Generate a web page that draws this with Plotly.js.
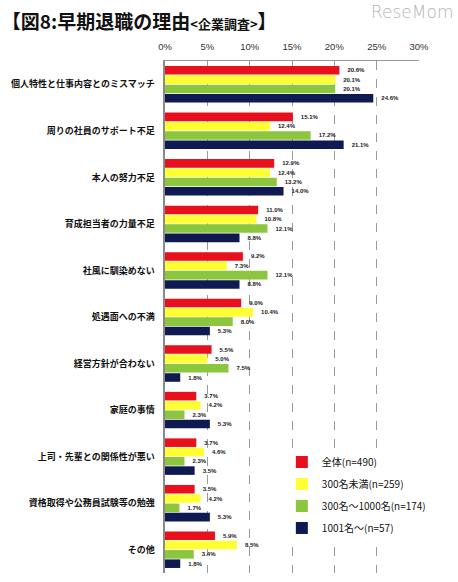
<!DOCTYPE html>
<html>
<head>
<meta charset="utf-8">
<script src="https://cdn.plot.ly/plotly-3.0.1.min.js"></script>
<style>html,body{margin:0;padding:0;background:#fff;}#chart{width:458px;height:582px;}</style>
</head>
<body>
<div id="chart"></div>
<script>
const categories = [
  "個人特性と仕事内容とのミスマッチ",
  "周りの社員のサポート不足",
  "本人の努力不足",
  "育成担当者の力量不足",
  "社風に馴染めない",
  "処遇面への不満",
  "経営方針が合わない",
  "家庭の事情",
  "上司・先輩との関係性が悪い",
  "資格取得や公務員試験等の勉強",
  "その他"
];
const seriesNames = ["全体(n=490)", "300名未満(n=259)", "300名～1000名(n=174)", "1001名～(n=57)"];
const valuesAll    = [20.6, 15.1, 12.9, 11.0, 9.2, 9.0, 5.5, 3.7, 3.7, 3.5, 5.9];
const valuesUnder300 = [20.1, 12.4, 12.4, 10.8, 7.3, 10.4, 5.0, 4.2, 4.6, 4.2, 8.5];
const values300to1000 = [20.1, 17.2, 13.2, 12.1, 12.1, 8.0, 7.5, 2.3, 2.3, 1.7, 3.4];
const values1001plus = [24.6, 21.1, 14.0, 8.8, 8.8, 5.3, 1.8, 5.3, 3.5, 5.3, 1.8];
const tickVals = [0, 5, 10, 15, 20, 25, 30];
const tickLabels = ["0%", "5%", "10%", "15%", "20%", "25%", "30%"];

const colors = ["#e8101c", "#ffff33", "#8cc63e", "#101a52"];
const seriesValues = [valuesAll, valuesUnder300, values300to1000, values1001plus];

const traces = seriesValues.map((vals, i) => ({
  type: "bar",
  orientation: "h",
  name: seriesNames[i],
  legendgroup: "g" + i,
  x: vals,
  y: categories,
  marker: { color: colors[i] },
  texttemplate: "   %{x:.1f}%",
  textposition: "outside",
  cliponaxis: false,
  textfont: { size: 6, color: "#222", family: "Liberation Sans, Arial, sans-serif", weight: "bold" },
  hoverinfo: "skip"
}));

const layout = {
  width: 458,
  height: 582,
  margin: { l: 165, r: 39, t: 61, b: 9 },
  paper_bgcolor: "#fff",
  plot_bgcolor: "#fff",
  barmode: "group",
  bargap: 0.2,
  bargroupgap: 0.08,
  font: { family: "Noto Sans CJK JP, sans-serif", color: "#222" },
  title: {
    text: "【図8:早期退職の理由<span style=\"font-size:13px\">&lt;企業調査&gt;</span>】",
    x: 0.004, xanchor: "left", xref: "container",
    y: 0.962, yanchor: "middle", yref: "container",
    font: { size: 19, weight: "bold", color: "#111", family: "Noto Sans CJK JP, sans-serif" }
  },
  xaxis: {
    side: "top",
    range: [0, 30],
    tickvals: tickVals,
    ticktext: tickLabels,
    ticks: "outside",
    ticklen: 6,
    tickcolor: "rgba(0,0,0,0)",
    tickfont: { size: 9.5, color: "#333", family: "Liberation Sans, Arial, sans-serif" },
    showgrid: true,
    gridcolor: "#9a9a9a",
    griddash: "dash",
    gridwidth: 1,
    showline: true,
    linecolor: "#999",
    linewidth: 1,
    zeroline: false,
    fixedrange: true
  },
  yaxis: {
    autorange: "reversed",
    showline: true,
    linecolor: "#8a8a8a",
    linewidth: 2.5,
    ticks: "",
    ticklabelstandoff: 6,
    tickfont: { size: 9, color: "#111", weight: "bold" },
    fixedrange: true
  },
  showlegend: true,
  legend: {
    x: 0.46, xanchor: "left",
    y: 0.245, yanchor: "top",
    bgcolor: "#fff",
    traceorder: "grouped",
    tracegroupgap: 3,
    itemwidth: 30,
    font: { size: 10, color: "#111" }
  },
  annotations: [
    {
      text: "ReseMom",
      xref: "paper", yref: "paper",
      x: 1.14, xanchor: "right",
      y: 1.095, yanchor: "middle",
      showarrow: false,
      font: { size: 17, color: "#b4b4b4", family: "DejaVu Sans, sans-serif", weight: 300 }
    }
  ]
};

Plotly.newPlot("chart", traces, layout, { displayModeBar: false, staticPlot: true });
</script>
</body>
</html>
